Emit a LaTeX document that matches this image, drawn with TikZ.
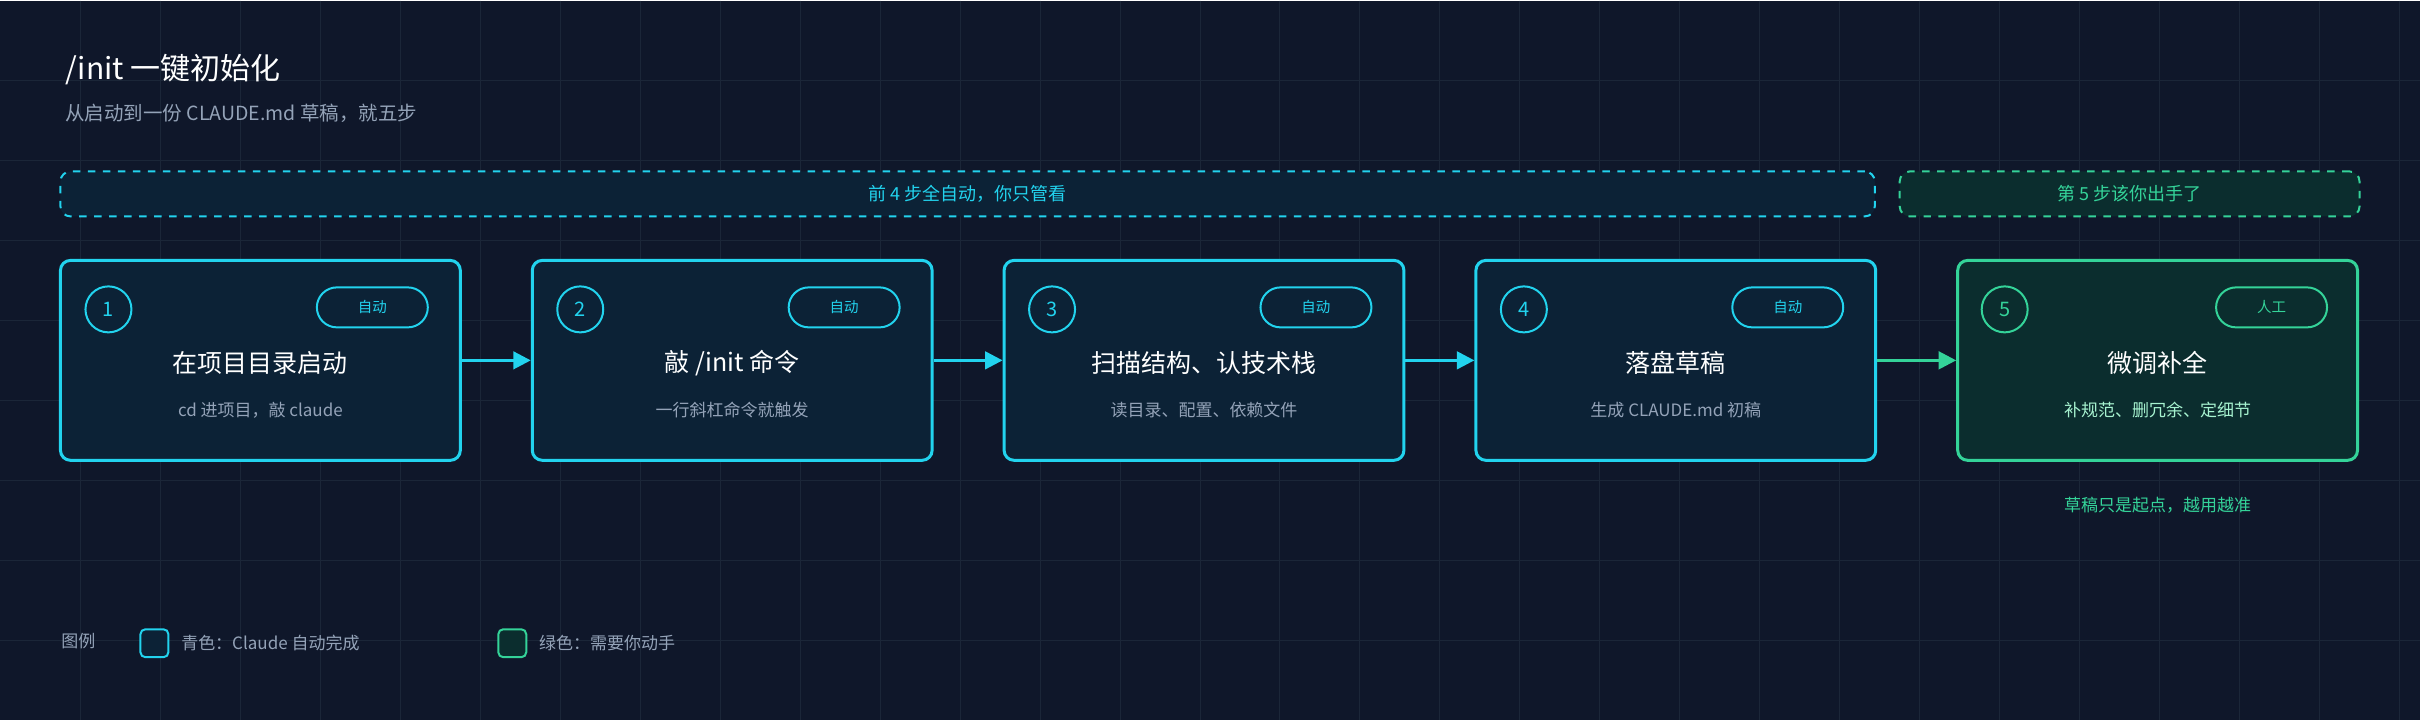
\documentclass[tikz,border=0pt]{standalone}
\usepackage{fontspec}
\setmainfont{Noto Sans CJK SC}
\usetikzlibrary{arrows.meta}
\definecolor{bgc}{HTML}{0F172A}
\definecolor{gridc}{HTML}{1B2638}
\definecolor{cyanc}{HTML}{22D3EE}
\definecolor{cyanfill}{HTML}{0C2236}
\definecolor{greenc}{HTML}{34D399}
\definecolor{greenfill}{HTML}{0B2D2E}
\definecolor{subc}{HTML}{94A3B8}
\definecolor{greensub}{HTML}{A7F3D0}
\begin{document}
\begin{tikzpicture}[x=0.4pt,y=-0.4pt]
    \tikzstyle{stage}=[rounded corners=4pt,line width=1.2pt,minimum width=160pt,minimum height=80pt]
    \tikzstyle{auto stage}=[stage,draw=cyanc,fill=cyanfill]
    \tikzstyle{hand stage}=[stage,draw=greenc,fill=greenfill]
    \tikzstyle{num}=[circle,draw=cyanc,line width=0.8pt,minimum size=18.4pt,inner sep=0pt,text=cyanc,font=\fontsize{8}{9}\selectfont]
    \tikzstyle{pill}=[rounded corners=8pt,draw=cyanc,line width=0.8pt,minimum width=44.4pt,minimum height=16pt,inner sep=0pt,text=cyanc,font=\fontsize{5.8}{6}\selectfont]
    \tikzstyle{head}=[text=white,font=\fontsize{10}{11}\selectfont]
    \tikzstyle{sub}=[text=subc,font=\fontsize{6.8}{8}\selectfont]
    \tikzstyle{banner}=[rounded corners=4pt,dashed,line width=0.8pt,minimum height=18pt,font=\fontsize{7.2}{8}\selectfont]
    \tikzstyle{flow}=[-{Triangle[length=7pt,width=7pt]},line width=1.2pt]
    \tikzstyle{key}=[rounded corners=2pt,line width=0.8pt,minimum size=11.2pt,inner sep=0pt]
    \tikzstyle{keytext}=[anchor=west,text=subc,font=\fontsize{6.8}{8}\selectfont]

    % background and grid
    \fill[bgc] (0,0) rectangle (2420,720);
    \foreach \gx in {80,160,...,2400} \draw[gridc,line width=0.4pt] (\gx,0) -- (\gx,720);
    \foreach \gy in {80,160,...,640} \draw[gridc,line width=0.4pt] (0,\gy) -- (2420,\gy);
    \useasboundingbox (0,0) rectangle (2420,720);

    % title
    \node[anchor=west,text=white,font=\fontsize{12}{13}\selectfont] (title) at (56,69) {/init 一键初始化};
    \node[anchor=west,text=subc,font=\fontsize{7.8}{9}\selectfont] (subtitle) at (56,113) {从启动到一份 CLAUDE.md 草稿，就五步};

    % phase banners
    \node[banner,draw=cyanc,fill=cyanfill,text=cyanc,minimum width=726pt] (auto band) at (967.5,193.5) {前 4 步全自动，你只管看};
    \node[banner,draw=greenc,fill=greenfill,text=greenc,minimum width=184pt] (hand band) at (2130,193.5) {第 5 步该你出手了};

    % stages
    \node[auto stage] (S-1) at (260,360) {};
    \node[auto stage] (S-2) at (732,360) {};
    \node[auto stage] (S-3) at (1204,360) {};
    \node[auto stage] (S-4) at (1676,360) {};
    \node[hand stage] (S-5) at (2158,360) {};

    \node[num] (N-1) at (108,309) {1};
    \node[num] (N-2) at (580,309) {2};
    \node[num] (N-3) at (1052,309) {3};
    \node[num] (N-4) at (1524,309) {4};
    \node[num,draw=greenc,text=greenc] (N-5) at (2005,309) {5};

    \node[pill] (P-1) at (372,307) {自动};
    \node[pill] (P-2) at (844,307) {自动};
    \node[pill] (P-3) at (1316,307) {自动};
    \node[pill] (P-4) at (1788,307) {自动};
    \node[pill,draw=greenc,text=greenc] (P-5) at (2272,307) {人工};

    \node[head] (T-1) at (260,363) {在项目目录启动};
    \node[head] (T-2) at (732,363) {敲 /init 命令};
    \node[head] (T-3) at (1204,363) {扫描结构、认技术栈};
    \node[head] (T-4) at (1676,363) {落盘草稿};
    \node[head] (T-5) at (2158,363) {微调补全};

    \node[sub] (D-1) at (260,410) {cd 进项目，敲 claude};
    \node[sub] (D-2) at (732,410) {一行斜杠命令就触发};
    \node[sub] (D-3) at (1204,410) {读目录、配置、依赖文件};
    \node[sub] (D-4) at (1676,410) {生成 CLAUDE.md 初稿};
    \node[sub,text=greensub] (D-5) at (2158,410) {补规范、删冗余、定细节};

    \path[flow,color=cyanc] (S-1) edge (S-2);
    \path[flow,color=cyanc] (S-2) edge (S-3);
    \path[flow,color=cyanc] (S-3) edge (S-4);
    \path[flow,color=greenc] (S-4) edge (S-5);

    \node[sub,text=greenc] (note) at (2158,505) {草稿只是起点，越用越准};

    % legend
    \node[keytext,anchor=center] (legend) at (78,641) {图例};
    \node[key,draw=cyanc,fill=cyanfill] (K-1) at (154,643) {};
    \node[keytext] at (172,643) {青色：Claude 自动完成};
    \node[key,draw=greenc,fill=greenfill] (K-2) at (512,643) {};
    \node[keytext] at (530,643) {绿色：需要你动手};
\end{tikzpicture}
\end{document}
